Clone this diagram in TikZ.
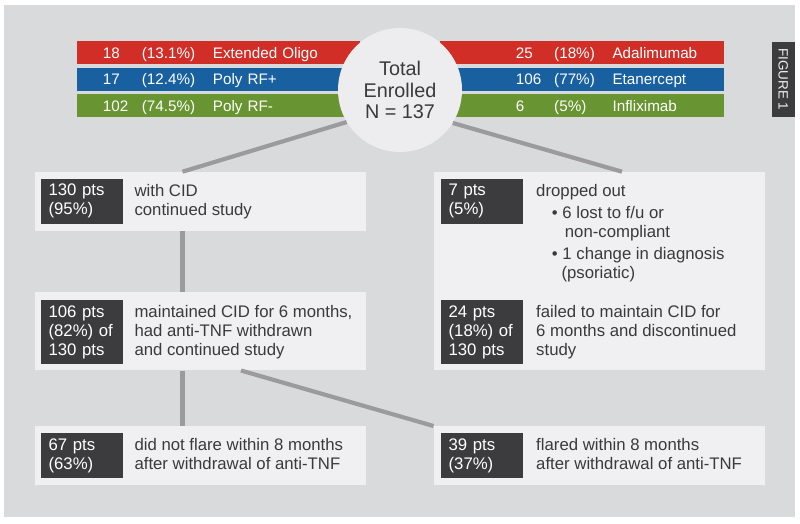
\documentclass[tikz,border=0pt]{standalone}
\usepackage{fontspec}
\setmainfont{Liberation Sans}
\usepackage{xcolor}
\usepackage{tikz}
\usetikzlibrary{calc,positioning}
\definecolor{fpRed}{RGB}{210,46,40}
\definecolor{fpBlue}{RGB}{24,96,160}
\definecolor{fpGreen}{RGB}{104,148,50}
\definecolor{fppanel}{RGB}{217,218,220}
\definecolor{fplight}{RGB}{240,240,242}
\definecolor{fpcircle}{RGB}{237,237,239}
\definecolor{fpdark}{RGB}{60,60,62}
\definecolor{fptext}{RGB}{58,58,60}
\definecolor{fpline}{RGB}{155,155,157}
\newcommand{\leftrow}[3]{\hspace*{7.8mm}\makebox[11.7mm][l]{#1}\makebox[21.3mm][l]{#2}#3}
\newcommand{\rightrow}[3]{\hspace*{22.7mm}\makebox[11.5mm][l]{#1}\makebox[17.5mm][l]{#2}#3}
\newcommand{\boxfont}{\fontsize{14.3}{16.2}\selectfont}

\begin{document}
\begin{tikzpicture}[x=0.3mm,y=-0.3mm,
    bar/.style={anchor=north west, text=white, inner sep=0, text width=85mm, align=left,
        minimum height=6.9mm, text height=3.3mm, text depth=0pt, font=\fontsize{13}{15}\selectfont},
    panel/.style={anchor=north west, fill=fplight, inner sep=0, minimum width=99.3mm},
    count/.style={anchor=north west, fill=fpdark, text=white, inner xsep=2.3mm, inner ysep=1.65mm,
        text width=19.9mm, align=left, font=\boxfont},
    note/.style={anchor=north west, text=fptext, inner xsep=0, inner ysep=1.65mm, align=left, font=\boxfont},
    link/.style={fpline, line width=1.25mm}]
    \useasboundingbox (0,0) rectangle (800,524);
    \fill[fppanel] (4.3,5) rectangle (795,516.7);

    % figure tab
    \node[fill=fpdark, text=fplight, rotate=-90, minimum width=22.5mm, minimum height=7mm, inner sep=0,
        font=\fontsize{11.5}{12}\selectfont] (fig) at (783.3,79.2) {FIGURE 1};

    % subtype bars (left) and anti-TNF bars (right)
    \node[bar, fill=fpRed] (oligo) at (76.7,41) {\leftrow{18}{(13.1\%)}{Extended Oligo}};
    \node[bar, fill=fpBlue] (rfpos) at (76.7,67.5) {\leftrow{17}{(12.4\%)}{Poly RF+}};
    \node[bar, fill=fpGreen] (rfneg) at (76.7,94) {\leftrow{102}{(74.5\%)}{Poly RF-}};
    \node[bar, fill=fpRed] (ada) at (440,41) {\rightrow{25}{(18\%)}{Adalimumab}};
    \node[bar, fill=fpBlue] (eta) at (440,67.5) {\rightrow{106}{(77\%)}{Etanercept}};
    \node[bar, fill=fpGreen] (inf) at (440,94) {\rightrow{6}{(5\%)}{Infliximab}};

    % enrolled circle
    \node[circle, fill=fpcircle, minimum size=37.2mm, inner sep=0, align=center, text=fptext,
        font=\fontsize{16.9}{18.1}\selectfont] (total) at (400,90) {Total\\Enrolled\\N = 137};

    % outcome boxes
    \node[panel, minimum height=17.7mm] (cidbox) at (34.3,171.7) {};
    \node[panel, minimum height=59.5mm, minimum width=99.45mm] (dropbox) at (433.5,171.7) {};
    \node[panel, minimum height=23.5mm] (keepbox) at (34.3,291.7) {};
    \node[panel, minimum height=17.5mm] (stillbox) at (34.3,426) {};
    \node[panel, minimum height=17.5mm, minimum width=99.45mm] (flarebox) at (433.5,426) {};

    \node[count] (cid) at (40.7,178.3) {130 pts\\(95\%)};
    \node[note] (cidtext) at (134.3,178.3) {with CID\\continued study};

    \node[count] (drop) at (440.7,178.3) {7 pts\\(5\%)};
    \node[note] (droptext) at (536,178.3) {dropped out\\[1mm]
        \hspace*{4.7mm}\textbullet\ 6 lost to f/u or\\
        \hspace*{8.6mm}non-compliant\\[1mm]
        \hspace*{4.7mm}\textbullet\ 1 change in diagnosis\\
        \hspace*{7.6mm}(psoriatic)};

    \node[count] (keep) at (40.7,300) {106 pts\\(82\%) of\\130 pts};
    \node[note] (keeptext) at (134.3,300) {maintained CID for 6 months,\\had anti-TNF withdrawn\\and continued study};

    \node[count] (fail) at (440.7,300) {24 pts\\(18\%) of\\130 pts};
    \node[note] (failtext) at (536,300) {failed to maintain CID for\\6 months and discontinued\\study};

    \node[count] (still) at (40.7,432.7) {67 pts\\(63\%)};
    \node[note] (stilltext) at (134.3,432.7) {did not flare within 8 months\\after withdrawal of anti-TNF};

    \node[count] (flare) at (440.7,432.7) {39 pts\\(37\%)};
    \node[note] (flaretext) at (536,432.7) {flared within 8 months\\after withdrawal of anti-TNF};

    % connectors
    \coordinate (stemL) at (182.5,0);
    \coordinate (stemR) at (622,0);
    \coordinate (forkR) at (241,0);
    \draw[link] (total.211.5) -- (cidbox.north -| stemL);
    \draw[link] (total.328.5) -- (dropbox.north -| stemR);
    \draw[link] (cidbox.south -| stemL) -- (keepbox.north -| stemL);
    \draw[link] (keepbox.south -| stemL) -- (stillbox.north -| stemL);
    \draw[link] (keepbox.south -| forkR) -- (flarebox.north west);
\end{tikzpicture}
\end{document}
